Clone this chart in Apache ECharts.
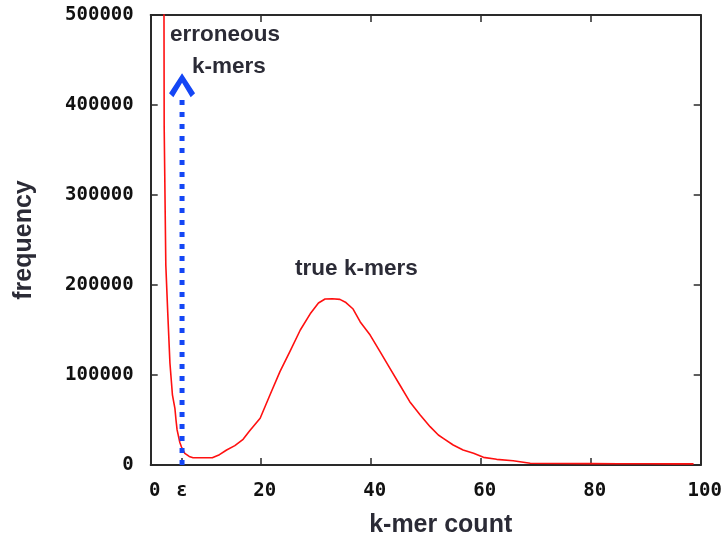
<!DOCTYPE html>
<html>
<head>
<meta charset="utf-8">
<title>k-mer spectrum</title>
<script src="https://cdn.jsdelivr.net/npm/echarts@6/dist/echarts.min.js"></script>
<style>
  html, body { margin: 0; padding: 0; background: #fff; }
  #chart { width: 725px; height: 540px; }
</style>
</head>
<body>
<div id="chart"></div>
<script>
// k-mer count (x) and frequency (y)
const kmerCount = [2.4, 2.45, 2.75, 3.1, 3.5, 3.95, 4.4, 4.6, 4.8, 5.3, 5.6, 6.2, 7.0, 7.7, 9.5, 11.2, 12.5, 13.8, 15.3, 16.8,
  18.0, 19.9, 21.7, 23.5, 25.3, 27.2, 29.0, 30.5, 31.7, 33.0, 34.4, 35.5, 36.8, 38.1, 39.9, 41.7, 43.5, 45.3, 47.1, 49.0,
  50.8, 52.3, 53.2, 55.0, 56.8, 58.7, 60.5, 62.9, 65.9, 69.0, 75, 80, 85, 90, 95, 98.7]
const frequency = [560000, 376000, 222000, 169000, 113000, 78000, 63000, 50000, 39000, 25000, 20000, 13000, 9500, 8100, 8000, 8100, 11500, 16700, 21500, 28500,
  38000, 52000, 78000, 103700, 126000, 150000, 168000, 180000, 184400, 184800, 184000, 180500, 173300, 159000, 144400, 126000, 107400, 88900, 70400, 55600,
  42600, 33300, 29600, 22200, 16700, 13000, 8500, 6300, 4800, 1900, 1600, 1500, 1400, 1400, 1300, 1300]

// x tick labels, epsilon marks the error threshold
const epsilon = 5.7
const xTicks = [0, epsilon, 20, 40, 60, 80, 100]
const yTicks = [0, 100000, 200000, 300000, 400000, 500000]

// dotted arrow from the threshold up to the erroneous peak
const arrowBase = 0
const arrowTop = 411000
const arrowHead = 422000

const textColor = '#2b2b36'
const axisColor = '#2a2a2a'
const arrowColor = '#1446f5'
const tickFont = { fontFamily: 'DejaVu Sans Mono', fontWeight: 'bold', fontSize: 19, color: '#111' }
const noteFont = { fontFamily: 'Liberation Sans', fontWeight: 'bold', fontSize: 22.5, color: textColor }
const titleFont = { fontFamily: 'Liberation Sans', fontWeight: 'bold', fontSize: 25, color: textColor }

const chart = echarts.init(document.getElementById('chart'))

const curve = kmerCount.map((x, i) => [x, frequency[i]])

const frameAxis = {
  splitLine: { show: false },
  axisLine: { show: true, onZero: false, lineStyle: { color: axisColor, width: 2 } },
  axisTick: { show: true, inside: true, length: 7, lineStyle: { color: axisColor, width: 1.5 } },
  axisLabel: { show: false }
}

chart.setOption({
  animation: false,
  grid: {
    left: 150.7,
    right: 24.3,
    top: 15,
    bottom: 75,
    containLabel: false,
    outerBoundsMode: 'none'
  },
  xAxis: [
    {
      type: 'value',
      min: 0,
      max: 100,
      interval: 20,
      name: 'k-mer count',
      nameLocation: 'middle',
      nameGap: 48,
      nameTextStyle: Object.assign({ padding: [0, 0, 0, 30] }, titleFont),
      splitLine: { show: false },
      axisLine: { onZero: false, lineStyle: { color: axisColor, width: 2 } },
      axisTick: {
        inside: true,
        length: 7,
        customValues: [epsilon, 20, 40, 60, 80],
        lineStyle: { color: axisColor, width: 1.5 }
      },
      axisLabel: Object.assign({
        margin: 17,
        customValues: xTicks,
        formatter: v => (v === epsilon ? '{e|ε}' : '{n|' + v + '}'),
        rich: {
          e: Object.assign({}, tickFont),
          n: Object.assign({ padding: [0, 0, 0, 8] }, tickFont)
        }
      }, tickFont)
    },
    Object.assign({ type: 'value', position: 'top', min: 0, max: 100, interval: 20 }, frameAxis)
  ],
  yAxis: [
    {
      type: 'value',
      min: 0,
      max: 500000,
      interval: 100000,
      name: 'frequency',
      nameLocation: 'middle',
      nameGap: 114,
      nameTextStyle: titleFont,
      splitLine: { show: false },
      axisLine: { show: true, onZero: false, lineStyle: { color: axisColor, width: 2 } },
      axisTick: { show: true, inside: true, length: 7, lineStyle: { color: axisColor, width: 1.5 } },
      axisLabel: Object.assign({
        margin: 17,
        customValues: yTicks,
        formatter: v => String(v)
      }, tickFont)
    },
    Object.assign({ type: 'value', position: 'right', min: 0, max: 500000, interval: 100000 }, frameAxis)
  ],
  series: [
    {
      name: 'frequency',
      type: 'line',
      data: curve,
      showSymbol: false,
      symbol: 'none',
      lineStyle: { color: '#ff1010', width: 1.6 },
      markPoint: {
        symbol: 'circle',
        symbolSize: 0,
        silent: true,
        label: Object.assign({ show: true, position: 'inside' }, noteFont),
        data: [
          { coord: [13.5, 477500], label: { formatter: 'erroneous' } },
          { coord: [14.2, 442000], label: { formatter: 'k-mers' } },
          { coord: [37.4, 217800], label: { formatter: 'true k-mers' } }
        ]
      }
    },
    {
      name: 'threshold',
      type: 'line',
      data: [[epsilon, arrowBase], [epsilon, arrowTop]],
      showSymbol: false,
      symbol: 'none',
      lineStyle: { color: arrowColor, width: 5, type: [5, 7], cap: 'butt' },
      z: 3
    },
    {
      name: 'arrow head',
      type: 'scatter',
      data: [[epsilon, arrowHead]],
      symbol: 'path://M0,18 L12,0 L24,18 L20,21.5 L12,8.5 L4,21.5 Z',
      symbolSize: [26, 24],
      itemStyle: { color: arrowColor, opacity: 1 },
      z: 4
    }
  ]
})
</script>
</body>
</html>
